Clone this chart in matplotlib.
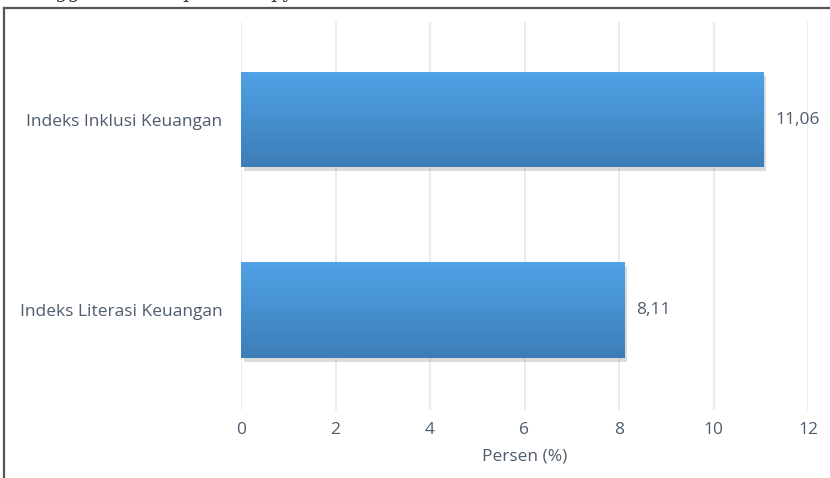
import matplotlib
matplotlib.use("Agg")
import matplotlib.pyplot as plt
import numpy as np
from matplotlib import patheffects as pe
from matplotlib.colors import LinearSegmentedColormap

categories = ["Indeks Inklusi Keuangan", "Indeks Literasi Keuangan"]
values = [11.06, 8.11]
value_labels = ["11,06", "8,11"]
xticks = [0, 2, 4, 6, 8, 10, 12]
xlabel = "Persen (%)"

text_color = "#4E5C6C"
font = "Open Sans"
fs = 12.5

fig = plt.figure(figsize=(8.3, 4.78), dpi=100)
W, H = 830, 478
ax = fig.add_axes([241 / W, 1 - 410 / H, (808 - 241) / W, (410 - 22) / H])

ax.set_xlim(0, 12)
ax.set_ylim(1.525, -0.512)
ax.set_xticks(xticks)
ax.set_xticklabels([str(t) for t in xticks], fontsize=fs, color=text_color, family=font)
ax.set_yticks(range(len(categories)))
ax.set_yticklabels(categories, fontsize=fs, color=text_color, family=font)
ax.tick_params(axis="both", length=0)
ax.tick_params(axis="y", pad=13.5)
ax.tick_params(axis="x", pad=9)
for s in ax.spines.values():
    s.set_visible(False)
ax.grid(axis="x", color="#E4E8ED", linewidth=1.2)
ax.set_axisbelow(True)
ax.set_xlabel(xlabel, fontsize=fs, color=text_color, family=font, labelpad=7)

cmap = LinearSegmentedColormap.from_list("g", ["#50A3E6", "#3C7DB8"])
grad = np.linspace(0, 1, 256).reshape(-1, 1)
bars = ax.barh(range(len(categories)), values, height=0.5, color="#4690D2", zorder=2,
               path_effects=[pe.SimplePatchShadow(offset=(2, -3), shadow_rgbFace="#888888", alpha=0.3), pe.Normal()])
for b, lab in zip(bars, value_labels):
    x0, y0 = b.get_x(), b.get_y()
    w, h = b.get_width(), b.get_height()
    im = ax.imshow(grad, aspect="auto", cmap=cmap, extent=[x0, x0 + w, y0 + h, y0], zorder=3, interpolation="bilinear")
    im.set_clip_path(b)
    ax.text(x0 + w + 0.25, y0 + h / 2, lab, va="center", ha="left", fontsize=fs, color=text_color, family=font, zorder=4)
ax.set_xlim(0, 12)
ax.set_ylim(1.525, -0.512)

# page frame (left and top border)
fig.add_artist(plt.Line2D([4 / W, 4 / W], [0, 1 - 8 / H], color="#555555", linewidth=1.6))
fig.add_artist(plt.Line2D([4 / W, 1], [1 - 8 / H, 1 - 8 / H], color="#555555", linewidth=1.6))

# cropped document text above the frame (only descenders visible)
for x, s in [(55, "gg"), (182, "p"), (270, "py")]:
    fig.text(x / W, 1 + 1.5 / H, s, family="DejaVu Serif", fontsize=14, color="#333333", va="baseline", ha="left")

fig.savefig("out.png", dpi=100)
